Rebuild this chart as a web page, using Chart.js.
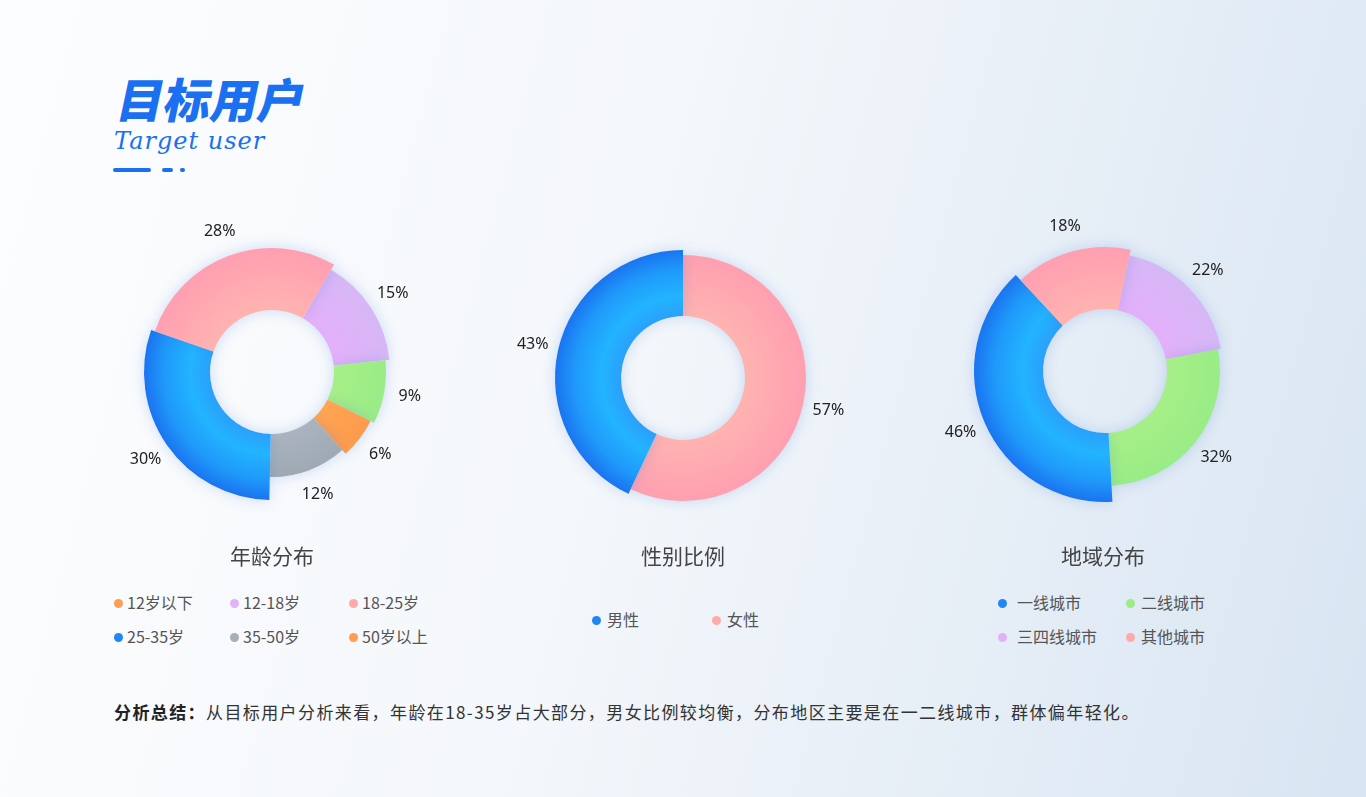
<!DOCTYPE html>
<html lang="zh-CN">
<head>
<meta charset="utf-8">
<title>目标用户</title>
<script src="https://cdn.jsdelivr.net/npm/chart.js@4.4.1/dist/chart.umd.min.js"></script>
<style>
html, body { margin: 0; padding: 0; }
body {
    width: 1366px; height: 797px; position: relative; overflow: hidden;
    background: linear-gradient(105deg, #fcfdfe 0%, #f4f7fb 45%, #d8e5f2 100%);
    font-family: "Noto Sans CJK SC", "Noto Sans", sans-serif;
}
.title {
    position: absolute; left: 112px; top: 68px;
    font-size: 47px; font-weight: 900; line-height: 60px; color: #1a70f0;
    transform: skewX(-12deg); transform-origin: left bottom;
}
.subtitle {
    position: absolute; left: 114px; top: 124px;
    font-family: "DejaVu Serif", serif; font-style: italic;
    font-size: 24px; line-height: 34px; color: #1a70f0; letter-spacing: 1px;
}
.deco { position: absolute; height: 4px; top: 168px; background: #1a70f0; border-radius: 2px; }
.chart { position: absolute; width: 360px; height: 360px; }
.ctitle { position: absolute; width: 300px; top: 540px; text-align: center; font-size: 21px; line-height: 30px; color: #444; }
.item { position: absolute; white-space: nowrap; font-size: 16px; line-height: 20px; color: #555; }
.dot { position: absolute; width: 9px; height: 9px; border-radius: 50%; }
.summary {
    position: absolute; left: 114px; top: 699px;
    font-size: 17px; line-height: 26px; color: #333; letter-spacing: 1.4px;
}
.summary b { color: #222; }
</style>
</head>
<body>
<div class="title">目标用户</div>
<div class="subtitle">Target user</div>
<div class="deco" style="left:113px;width:38px"></div>
<div class="deco" style="left:162px;width:11px"></div>
<div class="deco" style="left:180px;width:5px"></div>

<div class="chart" style="left:92px;top:192px"><canvas id="age-chart"></canvas></div>
<div class="chart" style="left:503px;top:198px"><canvas id="gender-chart"></canvas></div>
<div class="chart" style="left:925px;top:191px"><canvas id="region-chart"></canvas></div>

<div class="ctitle" style="left:122px">年龄分布</div>
<div class="ctitle" style="left:533px">性别比例</div>
<div class="ctitle" style="left:953px">地域分布</div>

<div id="legends"></div>

<div class="summary"><b>分析总结：</b>从目标用户分析来看，年龄在18-35岁占大部分，男女比例较均衡，分布地区主要是在一二线城市，群体偏年轻化。</div>

<script>
// Slice data, clockwise from the start angle
const ageCategories = ['12-18岁', '12岁以下', '50岁以上', '35-50岁', '25-35岁', '18-25岁'];
const ageValues = [15, 9, 6, 12, 30, 28];
const genderCategories = ['女性', '男性'];
const genderValues = [57, 43];
const regionCategories = ['三四线城市', '二线城市', '一线城市', '其他城市'];
const regionValues = [22, 32, 46, 18];

// Legend entries (as printed under each chart)
const ageLegend = ['12岁以下', '12-18岁', '18-25岁', '25-35岁', '35-50岁', '50岁以上'];
const genderLegend = ['男性', '女性'];
const regionLegend = ['一线城市', '二线城市', '三四线城市', '其他城市'];

// Colour stops: inner edge -> outer edge
const fills = {
    blue:   [[0, '#2aa0fb'], [0.3, '#22b4ff'], [0.7, '#1f99fa'], [1, '#1a74f0']],
    pink:   [[0, '#ffb3b0'], [1, '#ff9fb1']],
    purple: [[0, '#e3b0f9'], [1, '#d6b7f6']],
    green:  [[0, '#a7ef88'], [1, '#99ec86']],
    orange: [[0, '#ffa553'], [1, '#fd9a4d']],
    gray:   [[0, '#abb4be'], [1, '#9ea9b4']]
};
const dotColors = { blue: '#1f87f5', pink: '#ffaaaa', purple: '#e2b2f7', green: '#9bec86', orange: '#ff9d52', gray: '#a5aeb9' };

const ageFills = ['purple', 'green', 'orange', 'gray', 'blue', 'pink'];
const ageRadii = [118, 114, 110, 105, 128, 124];
const genderFills = ['pink', 'blue'];
const genderRadii = [123, 128];
const regionFills = ['purple', 'green', 'blue', 'pink'];
const regionRadii = [118, 115, 131, 124];
const holeRadius = 62;

// Each slice gets its own outer radius, a soft glow and an outside % label
const ringPlugin = {
    id: 'ring',
    beforeDatasetsDraw(chart) {
        const radii = chart.options.plugins.ring.radii;
        chart.getDatasetMeta(0).data.forEach((arc, i) => {
            arc.outerRadius = radii[i];
            arc.innerRadius = holeRadius;
        });
        const ctx = chart.ctx;
        ctx.save();
        ctx.shadowColor = 'rgba(50, 110, 210, 0.22)';
        ctx.shadowBlur = 14;
    },
    afterDatasetsDraw(chart) {
        const ctx = chart.ctx;
        ctx.restore();
        const values = chart.data.datasets[0].data;
        ctx.save();
        ctx.font = '16px "Noto Sans", sans-serif';
        ctx.fillStyle = '#222';
        ctx.textAlign = 'center';
        ctx.textBaseline = 'middle';
        chart.getDatasetMeta(0).data.forEach((arc, i) => {
            const mid = (arc.startAngle + arc.endAngle) / 2;
            const r = arc.outerRadius + 26;
            ctx.fillText(values[i] + '%', arc.x + Math.cos(mid) * r, arc.y + Math.sin(mid) * r);
        });
        ctx.restore();
    }
};

function sliceFill(names, radii) {
    return function(context) {
        const chart = context.chart;
        const area = chart.chartArea;
        const stops = fills[names[context.dataIndex]];
        if (!area) return stops[0][1];
        const cx = (area.left + area.right) / 2;
        const cy = (area.top + area.bottom) / 2;
        const g = chart.ctx.createRadialGradient(cx, cy, holeRadius, cx, cy, radii[context.dataIndex]);
        stops.forEach(s => g.addColorStop(s[0], s[1]));
        return g;
    };
}

function makeDonut(id, labels, values, names, radii, rotation) {
    new Chart(document.getElementById(id), {
        type: 'doughnut',
        data: {
            labels: labels,
            datasets: [{
                data: values,
                backgroundColor: sliceFill(names, radii),
                borderWidth: 0
            }]
        },
        options: {
            responsive: true,
            maintainAspectRatio: false,
            animation: false,
            events: [],
            radius: 128,
            cutout: '48.4%',
            rotation: rotation,
            layout: { padding: 0 },
            plugins: {
                legend: { display: false },
                tooltip: { enabled: false },
                ring: { radii: radii }
            }
        },
        plugins: [ringPlugin]
    });
}

makeDonut('age-chart', ageCategories, ageValues, ageFills, ageRadii, 30);
makeDonut('gender-chart', genderCategories, genderValues, genderFills, genderRadii, 0);
makeDonut('region-chart', regionCategories, regionValues, regionFills, regionRadii, 12);

// HTML legends: [dot centre x, text left x, row centre y]
function addLegend(entries, colors, spots) {
    const box = document.getElementById('legends');
    entries.forEach((text, i) => {
        const [dx, tx, y] = spots[i];
        const dot = document.createElement('div');
        dot.className = 'dot';
        dot.style.left = (dx - 4.5) + 'px';
        dot.style.top = (y - 4.5) + 'px';
        dot.style.background = dotColors[colors[i]];
        box.appendChild(dot);
        const item = document.createElement('div');
        item.className = 'item';
        item.style.left = tx + 'px';
        item.style.top = (y - 11) + 'px';
        item.textContent = text;
        box.appendChild(item);
    });
}

addLegend(ageLegend, ['orange', 'purple', 'pink', 'blue', 'gray', 'orange'],
    [[118, 127, 603], [234, 243, 603], [353, 362, 603], [118, 127, 637], [234, 243, 637], [353, 362, 637]]);
addLegend(genderLegend, ['blue', 'pink'], [[596, 607, 620], [716, 727, 620]]);
addLegend(regionLegend, ['blue', 'green', 'purple', 'pink'],
    [[1002, 1017, 603], [1130, 1141, 603], [1002, 1017, 637], [1130, 1141, 637]]);
</script>
</body>
</html>
